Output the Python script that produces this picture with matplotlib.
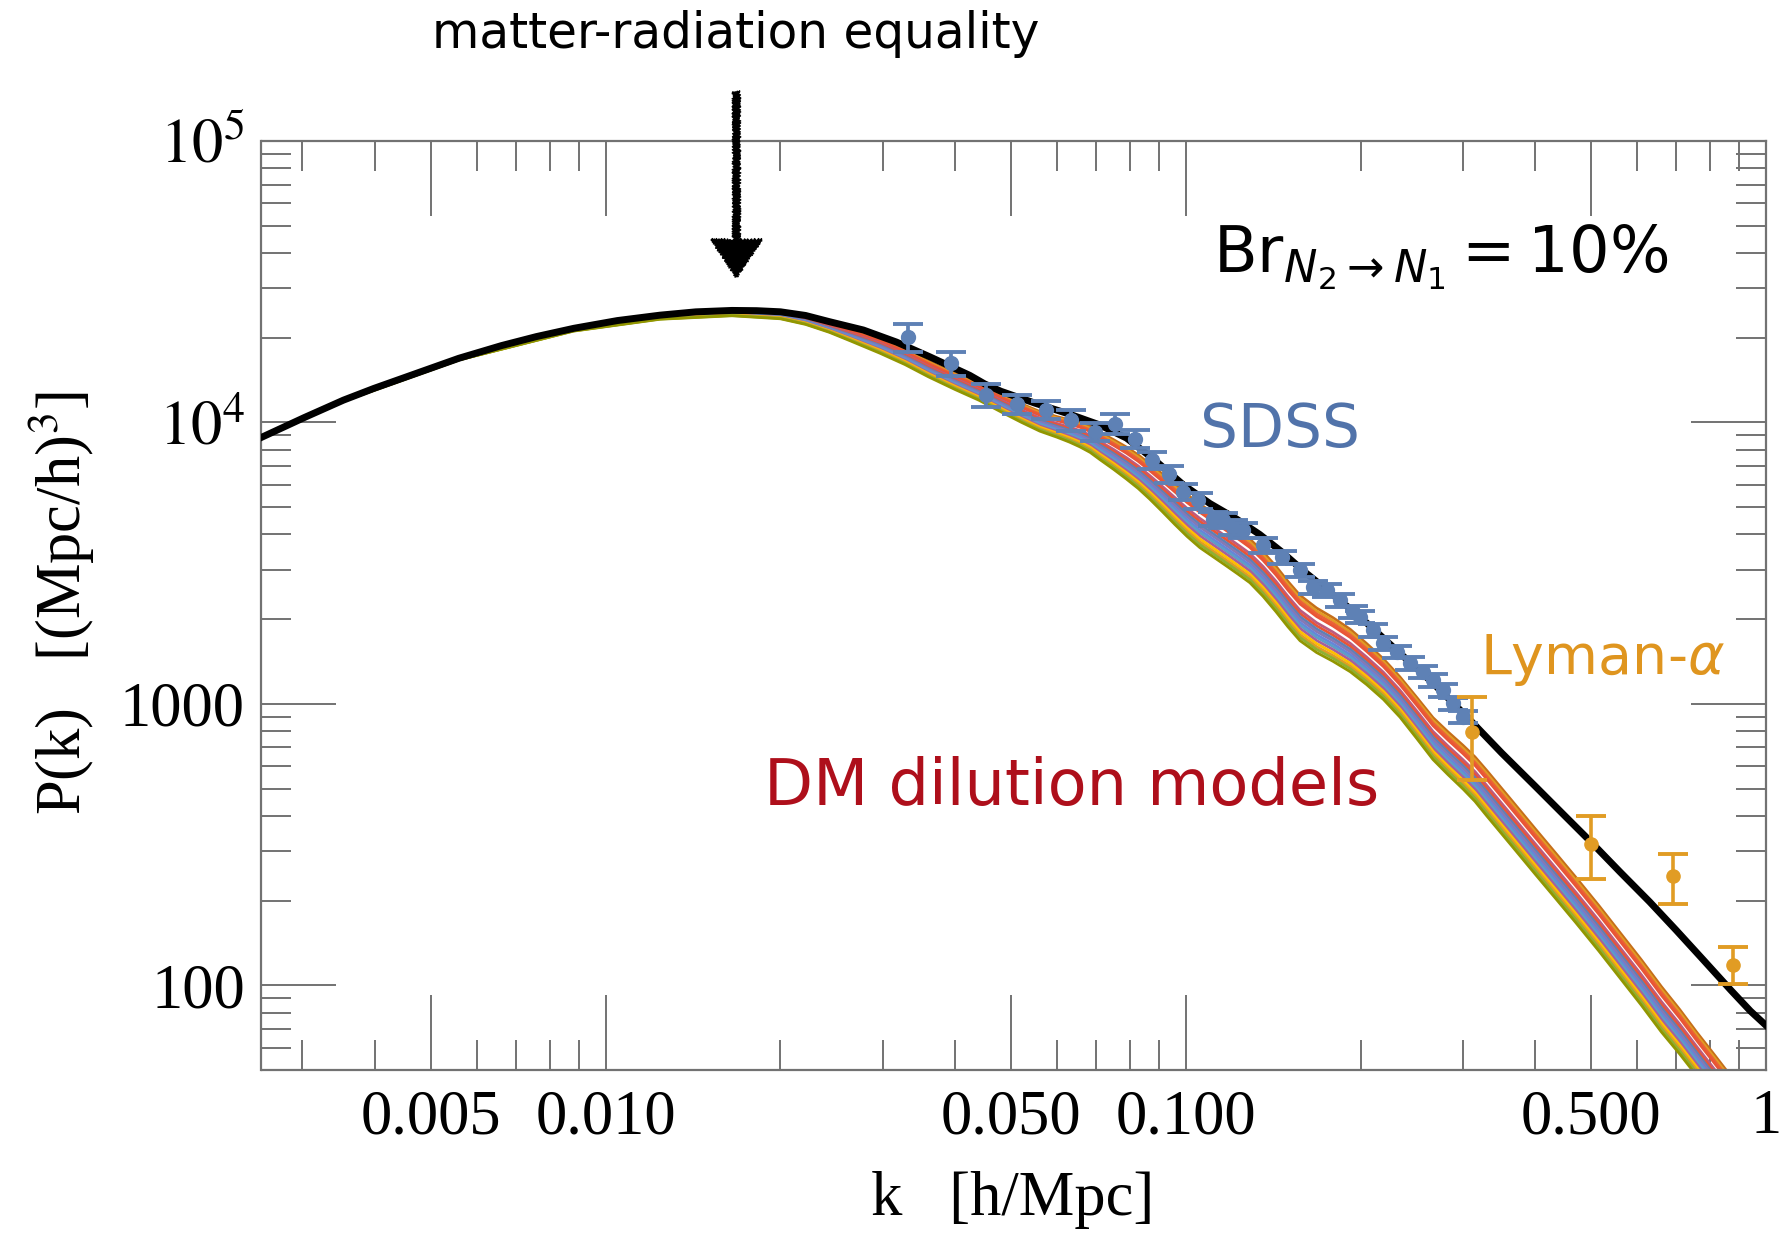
import numpy as np
import matplotlib
matplotlib.use("Agg")
import matplotlib.pyplot as plt
from matplotlib.ticker import FixedLocator, NullFormatter

plt.rcParams['font.family'] = 'serif'
plt.rcParams['font.serif'] = ['Liberation Serif', 'DejaVu Serif']
plt.rcParams['mathtext.fontset'] = 'stix'

# LCDM reference spectrum (black)
k_lcdm = [0.00255, 0.00302, 0.00353, 0.00398, 0.00468, 0.00558, 0.00661, 0.00759, 0.00881, 0.01047,
          0.0124, 0.01429, 0.0165, 0.0182, 0.0200, 0.0221, 0.0243, 0.0278, 0.0317, 0.0362,
          0.0424, 0.045, 0.048, 0.055, 0.063, 0.071, 0.079, 0.088, 0.099, 0.110,
          0.122, 0.134, 0.146, 0.160, 0.178, 0.200, 0.230, 0.265, 0.305, 0.350,
          0.400, 0.450, 0.500, 0.560, 0.630, 0.700, 0.780, 0.870, 0.940, 1.000]
p_lcdm = [8850, 10400, 12000, 13200, 14860, 16900, 18750, 20180, 21600, 23010,
          24050, 24710, 25000, 24950, 24720, 23990, 22800, 21300, 19300, 17100,
          14700, 13700, 12900, 11700, 10700, 9800, 8800, 7400, 6000, 5150,
          4550, 4000, 3480, 2950, 2470, 2030, 1560, 1200, 900, 670,
          510, 400, 322, 253, 198, 157, 123, 96, 81, 72]

# DM dilution models: upper edge of the band and lower/upper ratio (band width)
k_dm = [0.00255, 0.0035, 0.0056, 0.0088, 0.0124, 0.0165, 0.020, 0.0221, 0.0243, 0.0265,
        0.0297, 0.0328, 0.036, 0.040, 0.044, 0.048, 0.052, 0.056, 0.060, 0.063,
        0.0657, 0.0684, 0.0711, 0.075, 0.079, 0.0828, 0.0867, 0.091, 0.0957, 0.1005,
        0.1057, 0.111, 0.117, 0.123, 0.1289, 0.1358, 0.143, 0.150, 0.1573, 0.168,
        0.1792, 0.192, 0.2049, 0.219, 0.2339, 0.250, 0.2667, 0.283, 0.3004, 0.315,
        0.330, 0.365, 0.400, 0.435, 0.470, 0.515, 0.560, 0.610, 0.660, 0.710,
        0.760, 0.810, 0.860, 0.910, 0.960]
p_dm_top = [8830, 11880, 16850, 21540, 23980, 24800, 24450, 23600, 22300, 21350,
            19900, 18200, 16500, 14930, 13700, 12560, 11650, 10930, 10480, 10220,
            9980, 9660, 9220, 8690, 8170, 7660, 7110, 6570, 6030, 5540,
            5130, 4785, 4440, 4130, 3850, 3470, 3080, 2720, 2430, 2190,
            2025, 1840, 1638, 1445, 1246, 1054, 893, 795, 712, 648,
            580, 452, 360, 293, 242, 192, 154, 123, 99, 82,
            68, 57.5, 49, 42.5, 37]
dm_band_ratio = [0.997, 0.995, 0.991, 0.98, 0.97, 0.965, 0.955, 0.945, 0.937, 0.91,
                 0.885, 0.882, 0.88, 0.877, 0.875, 0.868, 0.86, 0.852, 0.845, 0.833,
                 0.82, 0.81, 0.80, 0.785, 0.77, 0.76, 0.75, 0.735, 0.72, 0.71,
                 0.70, 0.70, 0.70, 0.70, 0.70, 0.695, 0.69, 0.69, 0.69, 0.695,
                 0.70, 0.707, 0.715, 0.718, 0.72, 0.715, 0.71, 0.705, 0.70, 0.695,
                 0.69, 0.69, 0.69, 0.69, 0.69, 0.69, 0.69, 0.69, 0.69, 0.695,
                 0.70, 0.70, 0.70, 0.70, 0.70]
# position of each model inside the band (0 = top, 1 = bottom) and its colour
dm_levels = [0.0, 0.065, 0.13, 0.19, 0.33, 0.40, 0.47, 0.53, 0.60, 0.66, 0.73, 0.80, 0.87, 0.93, 1.0]
dm_colors = ['#C56E1A', '#E19C24', '#EB6235', '#E95536', '#BC5B80', '#E95536', '#5E81B5', '#8778B3',
             '#6685D9', '#5D9EC7', '#A5609D', '#FFBF00', '#E19C24', '#8FB032', '#929600']

# SDSS band powers
k_sdss = [0.0332, 0.0394, 0.0452, 0.0511, 0.0573, 0.0635, 0.0697, 0.0754, 0.0817, 0.0874,
          0.0935, 0.0989, 0.1050, 0.1114, 0.1159, 0.1205, 0.1254, 0.1359, 0.1462, 0.1573,
          0.1656, 0.1748, 0.1842, 0.1941, 0.1995, 0.2101, 0.2186, 0.2311, 0.2433, 0.2563,
          0.2667, 0.2774, 0.2886, 0.3004]
p_sdss = [20040, 16200, 12500, 11610, 11110, 10180, 9250, 9910, 8765, 7340,
          6544, 5660, 5288, 4551, 4488, 4249, 4136, 3658, 3324, 2981,
          2600, 2532, 2332, 2119, 2034, 1824, 1640, 1527, 1392, 1296,
          1211, 1116, 1003, 897]
sdss_rel_err = [0.115, 0.10, 0.095, 0.075, 0.075, 0.085, 0.075, 0.08, 0.075, 0.07,
                0.07, 0.065, 0.065, 0.06, 0.06, 0.06, 0.06, 0.06, 0.055, 0.055,
                0.055, 0.055, 0.05, 0.05, 0.05, 0.05, 0.05, 0.05, 0.05, 0.05,
                0.05, 0.05, 0.05, 0.05]

# Lyman-alpha points
k_lya = [0.311, 0.4985, 0.690, 0.878]
p_lya = [793, 318, 245, 118]
p_lya_hi = [1062, 401, 293, 137]
p_lya_lo = [537, 239, 195, 101]

k_eq = 0.0168

W, H = 1783, 1235
fig = plt.figure(figsize=(W / 100, H / 100), dpi=100)
ax = fig.add_axes([261.5 / W, 1 - 1070 / H, 1504.5 / W, 929 / H])

# model band
top = np.log10(p_dm_top)
bot = top + np.log10(dm_band_ratio)
for lev, col in zip(dm_levels, dm_colors):
    ax.plot(k_dm, 10 ** (top + lev * (bot - top)), color=col, lw=2.0, zorder=2)

ax.plot(k_lcdm, p_lcdm, color='black', lw=5.0, zorder=3)

p_sdss = np.array(p_sdss)
ax.errorbar(k_sdss, p_sdss, yerr=p_sdss * np.array(sdss_rel_err), fmt='o', color='#5E81B5',
            ms=10, elinewidth=2.7, capsize=10.5, capthick=2.8, zorder=4)

p_lya = np.array(p_lya)
ax.errorbar(k_lya, p_lya, yerr=[p_lya - np.array(p_lya_lo), np.array(p_lya_hi) - p_lya], fmt='o',
            color='#E19C24', ms=9.5, elinewidth=2.6, capsize=10.5, capthick=2.8, zorder=5)

ax.set_xscale('log')
ax.set_yscale('log')
ax.set_xlim(0.00255, 1.0)
ax.set_ylim(50, 1e5)

gray = '#727272'
xmaj = [0.005, 0.01, 0.05, 0.1, 0.5, 1.0]
ax.xaxis.set_major_locator(FixedLocator(xmaj))
ax.set_xticklabels(['0.005', '0.010', '0.050', '0.100', '0.500', '1'])
xmin = [m * 10.0 ** e for e in (-3, -2, -1) for m in range(2, 10) if m != 5]
ax.xaxis.set_minor_locator(FixedLocator(xmin))
ax.xaxis.set_minor_formatter(NullFormatter())

ax.yaxis.set_major_locator(FixedLocator([100, 1000, 1e4, 1e5]))
ax.set_yticklabels(['100', '1000', r'$10^4$', r'$10^5$'])
ymin = [m * 10.0 ** e for e in (1, 2, 3, 4) for m in range(2, 10)]
ax.yaxis.set_minor_locator(FixedLocator(ymin))
ax.yaxis.set_minor_formatter(NullFormatter())

ax.tick_params(which='both', direction='in', top=True, right=True, color=gray, width=1.4)
ax.tick_params(which='major', length=54, labelsize=45)
ax.tick_params(which='minor', length=21.6)
ax.tick_params(axis='x', which='major', pad=14)
ax.tick_params(axis='y', which='major', pad=12)
for s in ax.spines.values():
    s.set_color(gray)
    s.set_linewidth(1.6)

fig.text(62 / W, 1 - 603 / H, r'P(k)   [(Mpc/h)$^3$]', rotation=90, ha='center', va='center', fontsize=45)
fig.text(1013 / W, 1 - 1200 / H, 'k   [h/Mpc]', ha='center', va='center', fontsize=45)

# hand-drawn looking arrow at matter-radiation equality
arr = ax.annotate('', xy=(k_eq, 32800), xytext=(k_eq, 149400), annotation_clip=False,
                  arrowprops=dict(facecolor='black', edgecolor='black', width=4.5, headwidth=36,
                                  headlength=27, shrink=0))
arr.arrow_patch.set_sketch_params(scale=1.2, length=3, randomness=2)
fig.text(736 / W, 1 - 34 / H, 'matter-radiation equality', ha='center', va='center',
         fontsize=35, family='DejaVu Sans')

fig.text(1213 / W, 1 - 272 / H, r'$\mathrm{Br}_{N_2\to N_1} = 10\%$', ha='left', va='baseline',
         fontsize=46, family='DejaVu Sans', math_fontfamily='dejavusans')
fig.text(1200 / W, 1 - 430 / H, 'SDSS', ha='left', va='center', fontsize=43,
         family='DejaVu Sans', color='#5173AA')
fig.text(1480 / W, 1 - 660 / H, r'Lyman-$\alpha$', ha='left', va='center', fontsize=40,
         family='DejaVu Sans', math_fontfamily='dejavusans', color='#DF951F')
fig.text(764 / W, 1 - 787 / H, 'DM dilution models', ha='left', va='center', fontsize=46,
         family='DejaVu Sans', color='#AE0F1B')

fig.savefig('out.png', dpi=100)
